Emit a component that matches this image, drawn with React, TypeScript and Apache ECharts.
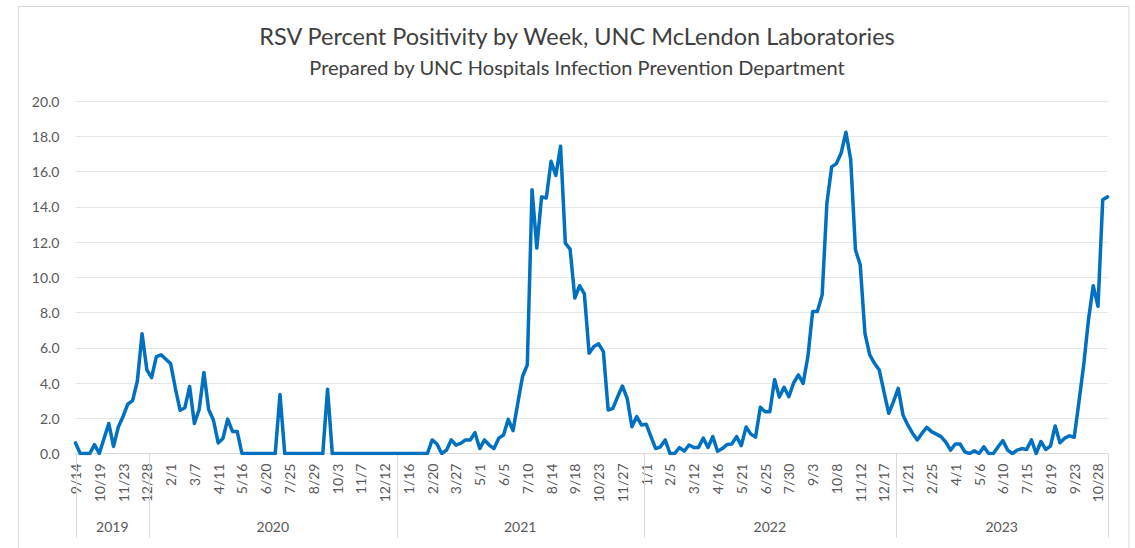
import { useEffect, useRef } from 'react';
import * as echarts from 'echarts';

// Weekly RSV percent positivity, first week ending 9/14/2019
const START_DATE = '2019-09-14';
const positivity: number[] = [
  // 2019 (9/14 - 12/28)
  0.6, 0, 0, 0, 0.5, 0, 0.85, 1.7, 0.4, 1.5, 2.1, 2.8, 3.0, 4.1, 6.8, 4.75,
  // 2020
  4.3, 5.5, 5.6, 5.35, 5.1, 3.7, 2.45, 2.6, 3.8, 1.7, 2.5, 4.6, 2.5, 1.9, 0.6, 0.85,
  1.95, 1.25, 1.25, 0, 0, 0, 0, 0, 0, 0, 0, 3.35, 0, 0, 0, 0,
  0, 0, 0, 0, 0, 3.65, 0, 0, 0, 0, 0, 0, 0, 0, 0, 0,
  0, 0, 0, 0,
  // 2021
  0, 0, 0, 0, 0, 0, 0, 0.77, 0.54, 0, 0.19, 0.77, 0.48, 0.57, 0.77, 0.77,
  1.18, 0.28, 0.77, 0.48, 0.28, 0.87, 1.05, 1.94, 1.3, 2.85, 4.37, 5.03, 14.97, 11.66, 14.56, 14.5,
  16.58, 15.77, 17.43, 11.94, 11.6, 8.82, 9.52, 9.06, 5.69, 6.07, 6.22, 5.78, 2.47, 2.56, 3.22, 3.83,
  3.13, 1.52, 2.09, 1.62,
  // 2022
  1.66, 0.96, 0.28, 0.38, 0.77, 0, 0, 0.34, 0.13, 0.48, 0.34, 0.34, 0.87, 0.34, 0.96, 0.13,
  0.28, 0.51, 0.54, 0.96, 0.45, 1.5, 1.1, 0.93, 2.62, 2.37, 2.37, 4.2, 3.2, 3.76, 3.22, 4.0,
  4.46, 3.98, 5.5, 8.06, 8.06, 9.0, 14.21, 16.26, 16.45, 17.05, 18.23, 16.68, 11.56, 10.71, 6.82, 5.59,
  5.12, 4.74, 3.5, 2.28, 2.94,
  // 2023
  3.7, 2.19, 1.62, 1.15, 0.77, 1.15, 1.48, 1.24, 1.1, 0.96, 0.64, 0.19, 0.54, 0.54, 0.09, 0,
  0.15, 0, 0.38, 0, 0, 0.38, 0.73, 0.19, 0, 0.19, 0.28, 0.23, 0.77, 0, 0.68, 0.23,
  0.42, 1.56, 0.61, 0.87, 1.0, 0.92, 2.94, 5.03, 7.59, 9.52, 8.35, 14.4, 14.56,
];

const yearLabels = ['2019', '2020', '2021', '2022', '2023'];
const yearWeekCounts = [16, 52, 52, 53, 45];

const TITLE = 'RSV Percent Positivity by Week, UNC McLendon Laboratories';
const SUBTITLE = 'Prepared by UNC Hospitals Infection Prevention Department';

function weekLabels(start: string, n: number): string[] {
  const out: string[] = [];
  const d = new Date(start + 'T12:00:00Z');
  for (let i = 0; i < n; i++) {
    out.push(`${d.getUTCMonth() + 1}/${d.getUTCDate()}`);
    d.setUTCDate(d.getUTCDate() + 7);
  }
  return out;
}

const FONT = 'Lato, "Noto Sans", sans-serif';
const TEXT_GRAY = '#595959';
const AXIS_GRAY = '#d9d9d9';

export default function App() {
  const ref = useRef<HTMLDivElement>(null);

  useEffect(() => {
    if (!ref.current) return;
    const chart = echarts.init(ref.current, undefined, { renderer: 'svg' });
    const categories = weekLabels(START_DATE, positivity.length);
    const last = positivity.length - 1;

    // year groups as [startBoundary, endBoundary, 0]
    const groups: number[][] = [];
    let cum = 0;
    yearWeekCounts.forEach((c, k) => {
      const s = k === 0 ? 0 : cum - 0.5;
      const e = k === yearWeekCounts.length - 1 ? last : cum + c - 0.5;
      groups.push([s, e, 0]);
      cum += c;
    });

    chart.setOption({
      animation: false,
      backgroundColor: '#ffffff',
      title: [
        {
          text: TITLE,
          left: 572,
          top: 19,
          textAlign: 'center',
          textStyle: { fontFamily: FONT, fontSize: 23.5, fontWeight: 'normal', color: '#404040' },
        },
        {
          text: SUBTITLE,
          left: 572,
          top: 52,
          textAlign: 'center',
          textStyle: { fontFamily: FONT, fontSize: 20, fontWeight: 'normal', color: '#404040' },
        },
      ],
      graphic: [
        {
          type: 'rect',
          silent: true,
          z: -1,
          shape: { x: 18.5, y: 6.5, width: 1110.5, height: 600 },
          style: { fill: 'none', stroke: AXIS_GRAY, lineWidth: 1 },
        },
      ],
      grid: { left: 75.5, right: 27.5, top: 101, bottom: 94.5, containLabel: false },
      xAxis: [
        {
          type: 'category',
          data: categories,
          boundaryGap: false,
          axisLine: { show: true, lineStyle: { color: AXIS_GRAY, width: 1 } },
          axisTick: { show: false },
          axisLabel: {
            interval: 4,
            rotate: 90,
            margin: 10,
            fontFamily: FONT,
            fontSize: 14,
            color: TEXT_GRAY,
            hideOverlap: false,
          },
          splitLine: { show: false },
        },
        {
          type: 'value',
          min: 0,
          max: last,
          show: false,
        },
      ],
      yAxis: {
        type: 'value',
        min: 0,
        max: 20,
        interval: 2,
        axisLine: { show: false },
        axisTick: { show: false },
        axisLabel: {
          formatter: (v: number) => v.toFixed(1),
          fontFamily: FONT,
          fontSize: 14,
          color: TEXT_GRAY,
          margin: 16,
        },
        splitLine: { lineStyle: { color: '#e6e6e6', width: 1 } },
      },
      series: [
        {
          type: 'line',
          data: positivity,
          xAxisIndex: 0,
          showSymbol: false,
          symbol: 'none',
          lineStyle: { color: '#0070C0', width: 3.5, join: 'round', cap: 'round' },
          itemStyle: { color: '#0070C0' },
          z: 3,
        },
        {
          type: 'custom',
          xAxisIndex: 1,
          yAxisIndex: 0,
          clip: false,
          silent: true,
          data: groups,
          encode: { x: [0, 1], y: 2 },
          renderItem: (params: any, api: any) => {
            const idx = params.dataIndex;
            const p0 = api.coord([api.value(0), 0]);
            const p1 = api.coord([api.value(1), 0]);
            const y = p0[1];
            const children: any[] = [
              {
                type: 'line',
                shape: { x1: Math.round(p0[0]) + 0.5, y1: y, x2: Math.round(p0[0]) + 0.5, y2: y + 84 },
                style: { stroke: AXIS_GRAY, lineWidth: 1 },
              },
              {
                type: 'text',
                style: {
                  text: yearLabels[idx],
                  x: (p0[0] + p1[0]) / 2,
                  y: y + 73,
                  align: 'center',
                  verticalAlign: 'middle',
                  fontFamily: FONT,
                  fontSize: 14,
                  fill: TEXT_GRAY,
                },
              },
            ];
            if (idx === yearLabels.length - 1) {
              children.push({
                type: 'line',
                shape: { x1: Math.round(p1[0]) + 0.5, y1: y, x2: Math.round(p1[0]) + 0.5, y2: y + 84 },
                style: { stroke: AXIS_GRAY, lineWidth: 1 },
              });
            }
            return { type: 'group', children };
          },
          z: 1,
        },
      ],
    });

    return () => chart.dispose();
  }, []);

  return (
    <div
      ref={ref}
      style={{ position: 'absolute', left: 0, top: 0, width: 1135, height: 548 }}
    />
  );
}
